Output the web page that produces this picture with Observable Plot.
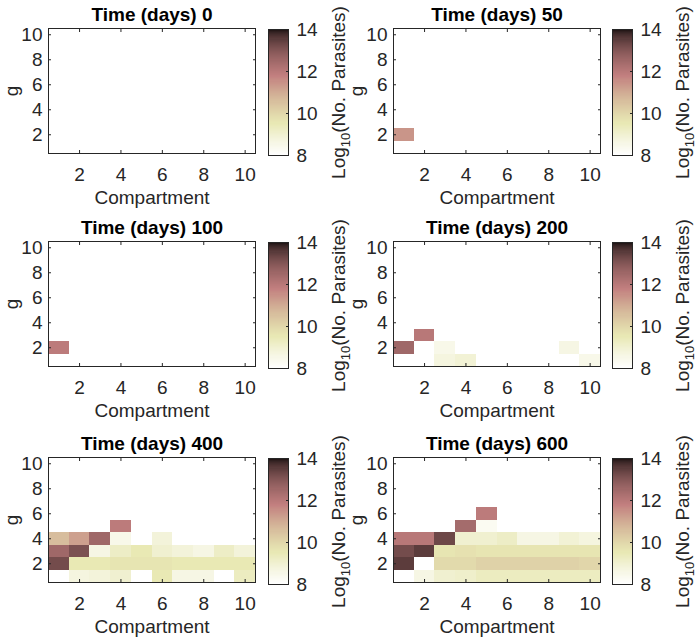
<!DOCTYPE html>
<html><head><meta charset="utf-8">
<script src="https://cdn.jsdelivr.net/npm/d3@7"></script>
<script src="https://cdn.jsdelivr.net/npm/@observablehq/plot@0.6"></script>
<style>
body{margin:0;background:#fff;}
#fig{position:relative;width:697px;height:637px;overflow:hidden;font-family:"Liberation Sans",Arial,Helvetica,sans-serif;}
#fig > div{position:absolute;}
</style></head><body><div id="fig"></div>
<script>
const _ = null;
const compartments = [1, 2, 3, 4, 5, 6, 7, 8, 9, 10];
const gValues = [1, 2, 3, 4, 5, 6, 7, 8, 9, 10];
const xTicks = [2, 4, 6, 8, 10];
const yTicks = [2, 4, 6, 8, 10];
const cbTicks = [8, 10, 12, 14];
const panelTimes = [0, 50, 100, 200, 400, 600];

// rows: index 0 -> g = 1; columns: compartments 1..10; values: log10(no. parasites)
const day0 = [];
const day50 = [
  [_, _, _, _, _, _, _, _, _, _],
  [11.4, _, _, _, _, _, _, _, _, _]
];
const day100 = [
  [_, _, _, _, _, _, _, _, _, _],
  [11.9, _, _, _, _, _, _, _, _, _]
];
const day200 = [
  [_, _, 8.7, 8.9, _, _, _, _, _, 8.5],
  [12.5, _, 8.5, _, _, _, _, _, 8.6, _],
  [_, 12.0, _, _, _, _, _, _, _, _]
];
const day400 = [
  [_, 8.7, 8.8, 9.0, _, 9.5, 8.6, 8.6, _, 9.3],
  [13.2, 9.5, 9.5, 9.6, 9.6, 9.6, 9.5, 9.5, 9.5, 9.5],
  [12.5, 13.1, 8.6, 9.2, 9.5, 9.0, 8.8, 8.6, 9.2, 8.8],
  [10.6, 11.2, 12.5, 8.5, _, 8.8, _, _, _, _],
  [_, _, _, 11.9, _, _, _, _, _, _]
];
const day600 = [
  [_, 8.6, 9.0, 9.1, 9.3, 9.3, 9.3, 9.3, 9.3, 9.3],
  [13.5, _, 9.9, 9.9, 10.1, 10.1, 10.1, 10.1, 10.1, 10.0],
  [13.2, 13.5, 9.6, 9.7, 9.6, 9.6, 9.6, 9.6, 9.6, 9.6],
  [12.0, 12.0, 13.3, 9.0, 9.0, 9.2, 8.6, 8.6, 8.9, 8.7],
  [_, _, _, 12.4, 8.3, _, _, _, _, _],
  [_, _, _, _, 11.9, _, _, _, _, _]
];
const panelData = [day0, day50, day100, day200, day400, day600];

// MATLAB "pink" colormap, flipped (8 -> white, 14 -> dark)
function pink(t) {
  const hr = Math.min(1, t / 0.375);
  const hg = Math.max(0, Math.min(1, (t - 0.375) / 0.375));
  const hb = Math.max(0, Math.min(1, (t - 0.75) / 0.25));
  const f = h => Math.round(255 * Math.sqrt((2 * t + h) / 3));
  return `rgb(${f(hr)},${f(hg)},${f(hb)})`;
}
const colorOpts = {type: "linear", domain: [8, 14], interpolate: (t) => pink(1 - t), clamp: true};

const INK = "#262626";
const FONT = '"Liberation Sans", Arial, Helvetica, sans-serif';
const fig = document.getElementById("fig");

function place(node, left, top) {
  const d = document.createElement("div");
  d.style.left = left + "px";
  d.style.top = top + "px";
  d.appendChild(node);
  fig.appendChild(d);
}

const colLeft = [0, 345];
const rowTop = [0, 213, 429];
const cbLeft = [268, 612];

panelData.forEach((rows, k) => {
  const col = k % 2, row = Math.floor(k / 2);
  const cells = rows.flatMap((r, i) => r.map((v, j) => ({c: compartments[j], g: gValues[i], v}))).filter(d => d.v != null);
  const p = Plot.plot({
    width: 348, height: 213,
    marginLeft: 48, marginRight: 93, marginTop: 28, marginBottom: 60,
    style: {fontFamily: FONT, fontSize: "19px", color: INK, background: "transparent", overflow: "visible"},
    x: {domain: [0.5, 10.5]},
    y: {domain: [0.5, 10.5]},
    color: colorOpts,
    marks: [
      Plot.rect(cells, {x1: d => d.c - 0.5, x2: d => d.c + 0.5, y1: d => d.g - 0.5, y2: d => d.g + 0.5, fill: "v", shapeRendering: "crispEdges"}),
      Plot.axisX(xTicks, {anchor: "bottom", tickSize: -3, tickPadding: 17, label: null, stroke: INK, fill: INK}),
      Plot.axisX(xTicks, {anchor: "top", tickSize: -3, label: null, stroke: INK, fill: "none"}),
      Plot.axisY(yTicks, {anchor: "left", tickSize: -3, tickPadding: 9, label: null, stroke: INK, fill: INK}),
      Plot.axisY(yTicks, {anchor: "right", tickSize: -3, label: null, stroke: INK, fill: "none"}),
      Plot.frame({stroke: INK, strokeWidth: 1}),
      Plot.text([`Time (days) ${panelTimes[k]}`], {text: d => d, frameAnchor: "top", dy: -14, lineAnchor: "middle", fontWeight: "bold", fill: "black"}),
      Plot.text(["Compartment"], {text: d => d, frameAnchor: "bottom", dy: 44, lineAnchor: "middle", fill: INK}),
      Plot.text(["g"], {text: d => d, frameAnchor: "left", dx: -37, rotate: -90, textAnchor: "middle", lineAnchor: "middle", fill: INK})
    ]
  });
  place(p, colLeft[col], rowTop[row]);

  const stops = d3.range(8, 14, 0.05);
  const cb = Plot.plot({
    width: 85, height: 213,
    marginLeft: 0, marginRight: 65, marginTop: 29, marginBottom: 58,
    style: {fontFamily: FONT, fontSize: "19px", color: INK, background: "transparent", overflow: "visible"},
    y: {domain: [8, 14]},
    color: colorOpts,
    marks: [
      Plot.rect(stops, {y1: d => d, y2: d => Math.min(14, d + 0.06), fill: d => d + 0.025, shapeRendering: "crispEdges"}),
      Plot.axisY(cbTicks, {anchor: "right", tickSize: -3, tickPadding: 11, label: null, stroke: INK, fill: INK}),
      Plot.frame({stroke: INK, strokeWidth: 1}),
      Plot.text(["Log10(No. Parasites)"], {text: d => d, frameAnchor: "right", dx: 50, rotate: -90, textAnchor: "middle", lineAnchor: "middle", fill: INK})
    ]
  });
  cb.querySelectorAll("text").forEach(t => {
    if (t.textContent === "Log10(No. Parasites)") {
      t.textContent = "";
      const ns = "http://www.w3.org/2000/svg";
      const a = document.createElementNS(ns, "tspan"); a.textContent = "Log";
      const b = document.createElementNS(ns, "tspan"); b.textContent = "10"; b.setAttribute("font-size", "13"); b.setAttribute("dy", "5");
      const c = document.createElementNS(ns, "tspan"); c.textContent = "(No. Parasites)"; c.setAttribute("dy", "-5");
      t.append(a, b, c);
    }
  });
  place(cb, cbLeft[col], rowTop[row]);
});
</script></body></html>
